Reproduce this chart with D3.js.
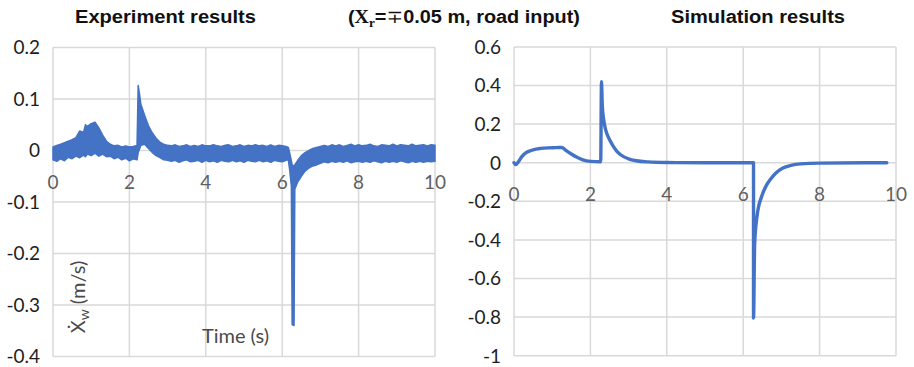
<!DOCTYPE html>
<html><head><meta charset="utf-8">
<script src="https://cdn.jsdelivr.net/npm/d3@7"></script>
<style>
html,body{margin:0;padding:0;background:#fff;}
svg{display:block;}
</style></head>
<body>
<svg id="chart" width="914" height="367"></svg>
<script>
// ---------- data ----------
const xTicks = [0, 2, 4, 6, 8, 10];
const expYTicks = [0.2, 0.1, 0, -0.1, -0.2, -0.3, -0.4];
const simYTicks = [0.6, 0.4, 0.2, 0, -0.2, -0.4, -0.6, -0.8, -1];

// Experiment: noisy band read as upper/lower envelope (m/s) vs time (s)
const expTime = [0,0.1,0.2,0.3,0.4,0.5,0.6,0.7,0.8,0.85,0.9,1.0,1.1,1.2,1.3,1.4,1.5,1.6,1.7,1.8,1.9,2.0,2.1,2.2,2.23,2.26,2.3,2.4,2.5,2.6,2.7,2.8,2.9,
  3.0,3.1,3.2,3.3,3.4,3.5,3.6,3.7,3.8,3.9,4.0,4.1,4.2,4.3,4.4,4.5,4.6,4.7,4.8,4.9,5.0,5.1,5.2,5.3,5.4,5.5,5.6,5.7,5.8,5.9,6.0,6.1,
  6.16,6.2,6.24,6.26,6.31,6.33,6.4,6.5,6.6,6.7,6.8,6.9,
  7.0,7.1,7.2,7.3,7.4,7.5,7.6,7.7,7.8,7.9,8.0,8.1,8.2,8.3,8.4,8.5,8.6,8.7,8.8,8.9,9.0,9.1,9.2,9.3,9.4,9.5,9.6,9.7,9.8,9.9,10.0];
const expUpper = [0.007,0.010,0.012,0.015,0.018,0.021,0.025,0.038,0.035,0.050,0.047,0.052,0.055,0.044,0.030,0.018,0.012,0.009,0.010,0.007,0.009,0.007,0.008,0.010,0.126,0.112,0.090,0.068,0.048,0.034,0.024,0.016,0.012,
  0.010,0.009,0.011,0.008,0.009,0.011,0.008,0.010,0.008,0.011,0.009,0.009,0.011,0.009,0.008,0.010,0.011,0.008,0.009,0.011,0.008,0.010,0.009,0.011,0.009,0.010,0.008,0.011,0.008,0.010,0.009,0.008,
  0.006,-0.006,-0.020,-0.028,-0.030,-0.028,-0.020,-0.010,-0.004,0.000,0.004,0.006,
  0.008,0.010,0.008,0.011,0.009,0.011,0.008,0.010,0.012,0.009,0.011,0.009,0.010,0.012,0.009,0.008,0.011,0.010,0.009,0.012,0.009,0.011,0.010,0.009,0.012,0.009,0.010,0.011,0.009,0.011,0.010];
const expLower = [-0.018,-0.021,-0.016,-0.020,-0.013,-0.016,-0.011,-0.014,-0.009,-0.012,-0.007,-0.010,-0.005,-0.011,-0.007,-0.012,-0.011,-0.016,-0.013,-0.018,-0.015,-0.020,-0.016,-0.018,-0.004,0.002,0.010,0.012,0.004,-0.004,-0.010,-0.014,-0.018,
  -0.019,-0.021,-0.019,-0.023,-0.020,-0.018,-0.022,-0.021,-0.019,-0.023,-0.019,-0.022,-0.020,-0.023,-0.019,-0.021,-0.022,-0.019,-0.022,-0.020,-0.023,-0.019,-0.021,-0.022,-0.019,-0.022,-0.020,-0.023,-0.019,-0.021,-0.022,-0.019,
  -0.018,-0.040,-0.070,-0.338,-0.340,-0.075,-0.062,-0.050,-0.040,-0.034,-0.030,-0.028,
  -0.025,-0.022,-0.024,-0.021,-0.023,-0.021,-0.023,-0.020,-0.024,-0.022,-0.021,-0.023,-0.021,-0.023,-0.020,-0.022,-0.024,-0.021,-0.023,-0.021,-0.023,-0.020,-0.022,-0.024,-0.021,-0.023,-0.021,-0.023,-0.021,-0.022,-0.021];

// Simulation: single line (m/s) vs time (s)
const simTime  = [0,0.05,0.1,0.2,0.3,0.4,0.5,0.7,0.9,1.1,1.25,1.35,1.5,1.65,1.8,2.0,2.27,2.29,2.31,2.35,2.4,2.5,2.6,2.7,2.8,3.0,3.2,3.5,4.0,5.0,6.27,6.27,6.30,6.36,6.48,6.6,6.7,6.85,7.04,7.25,7.5,8.0,9.76];
const simValue = [0,-0.01,0,0.03,0.05,0.06,0.067,0.074,0.077,0.078,0.079,0.065,0.045,0.028,0.015,0.007,0.005,0.42,0.30,0.22,0.17,0.12,0.085,0.058,0.04,0.02,0.01,0.004,0.001,0,0,-0.805,-0.42,-0.28,-0.176,-0.12,-0.09,-0.055,-0.028,-0.014,-0.006,-0.002,0];

// ---------- drawing ----------
const svg = d3.select("#chart");
svg.append("rect").attr("width",914).attr("height",367).attr("fill","#fff");
const BLUE = "#4472C4", GRID = "#d9d9d9";
const tickFont = 'Lato,"Open Sans",sans-serif';

function panel(opt){
  const x = d3.scaleLinear().domain([0,10]).range(opt.xr);
  const y = d3.scaleLinear().domain(opt.yd).range(opt.yr);
  const g = svg.append("g");
  g.append("g").selectAll("line").data(opt.yTicks).join("line")
    .attr("x1", opt.xr[0]).attr("x2", opt.xr[1])
    .attr("y1", d=>y(d)).attr("y2", d=>y(d))
    .attr("stroke", GRID).attr("stroke-width", 1.5);
  g.append("g").selectAll("line").data(xTicks).join("line")
    .attr("x1", d=>x(d)).attr("x2", d=>x(d))
    .attr("y1", opt.yr[0]).attr("y2", opt.yr[1])
    .attr("stroke", GRID).attr("stroke-width", 1.5);
  g.append("g").selectAll("text").data(opt.yTicks).join("text")
    .attr("x", opt.xr[0]-13).attr("y", d=>y(d)).attr("dy","0.36em")
    .attr("text-anchor","end").attr("font-family",tickFont).attr("font-size",19)
    .attr("fill","#1e1e1e").text(d=>String(d));
  g.append("g").selectAll("text").data(xTicks).join("text")
    .attr("x", d=>x(d)).attr("y", y(0)+38)
    .attr("text-anchor","middle").attr("font-family",tickFont).attr("font-size",19)
    .attr("fill","#5f5f5f").text(d=>String(d));
  return {x,y,g};
}

// Left panel: experiment
const L = panel({xr:[53,435], yd:[-0.4,0.2], yr:[356.5,47.5], yTicks:expYTicks});
const expData = expTime.map((t,i)=>({t, u:expUpper[i], l:expLower[i]}));
L.g.append("path").datum(expData)
  .attr("d", d3.area().x(d=>L.x(d.t)).y0(d=>L.y(d.l)).y1(d=>L.y(d.u)))
  .attr("fill", BLUE).attr("stroke", BLUE).attr("stroke-width", 1.5).attr("stroke-linejoin","round");

// Right panel: simulation
const R = panel({xr:[514,896], yd:[-1,0.6], yr:[355.7,46.9], yTicks:simYTicks});
const simData = simTime.map((t,i)=>({t, v:simValue[i]}));
R.g.append("path").datum(simData)
  .attr("d", d3.line().x(d=>R.x(d.t)).y(d=>R.y(d.v)).curve(d3.curveMonotoneX))
  .attr("fill","none").attr("stroke", BLUE).attr("stroke-width", 3.4)
  .attr("stroke-linejoin","round").attr("stroke-linecap","round");

// Axis titles (left panel)
const yt = svg.append("text").attr("transform","translate(85,297) rotate(-90)")
  .attr("text-anchor","middle").attr("font-family",tickFont).attr("font-size",20).attr("fill","#4a4a4a");
yt.append("tspan").text("\u1E8A");
yt.append("tspan").attr("font-size",14).attr("dy",4).text("w");
yt.append("tspan").attr("dy",-4).text(" (m/s)");
svg.append("text").attr("x",235.5).attr("y",343).attr("text-anchor","middle")
  .attr("font-family",tickFont).attr("font-size",20).attr("fill","#4a4a4a").text("Time (s)");

// Titles
const titleFont = '"Liberation Sans",Arial,sans-serif';
svg.append("text").attr("x",75).attr("y",22.5).attr("font-family",titleFont).attr("font-weight","bold")
  .attr("font-size",18).attr("textLength",181).attr("lengthAdjust","spacingAndGlyphs").attr("fill","#111").text("Experiment results");
svg.append("text").attr("x",671).attr("y",22.5).attr("font-family",titleFont).attr("font-weight","bold")
  .attr("font-size",18).attr("textLength",174).attr("lengthAdjust","spacingAndGlyphs").attr("fill","#111").text("Simulation results");
const mt = svg.append("text").attr("x",348).attr("y",22.5).attr("font-family",titleFont).attr("font-weight","bold")
  .attr("font-size",18).attr("fill","#111").attr("textLength",232).attr("lengthAdjust","spacingAndGlyphs");
mt.append("tspan").text("(");
mt.append("tspan").attr("font-family",'"Liberation Serif","Times New Roman",serif').attr("font-weight","bold").text("X");
mt.append("tspan").attr("font-family",'"Liberation Serif","Times New Roman",serif').attr("font-weight","bold").attr("font-size",12).attr("dy",4).text("r");
mt.append("tspan").attr("dy",-4).text("=");
mt.append("tspan").attr("font-family",'"DejaVu Serif",serif').attr("font-weight","normal").text("\u2213");
mt.append("tspan").text("0.05 m, road input)");
</script>
</body></html>
